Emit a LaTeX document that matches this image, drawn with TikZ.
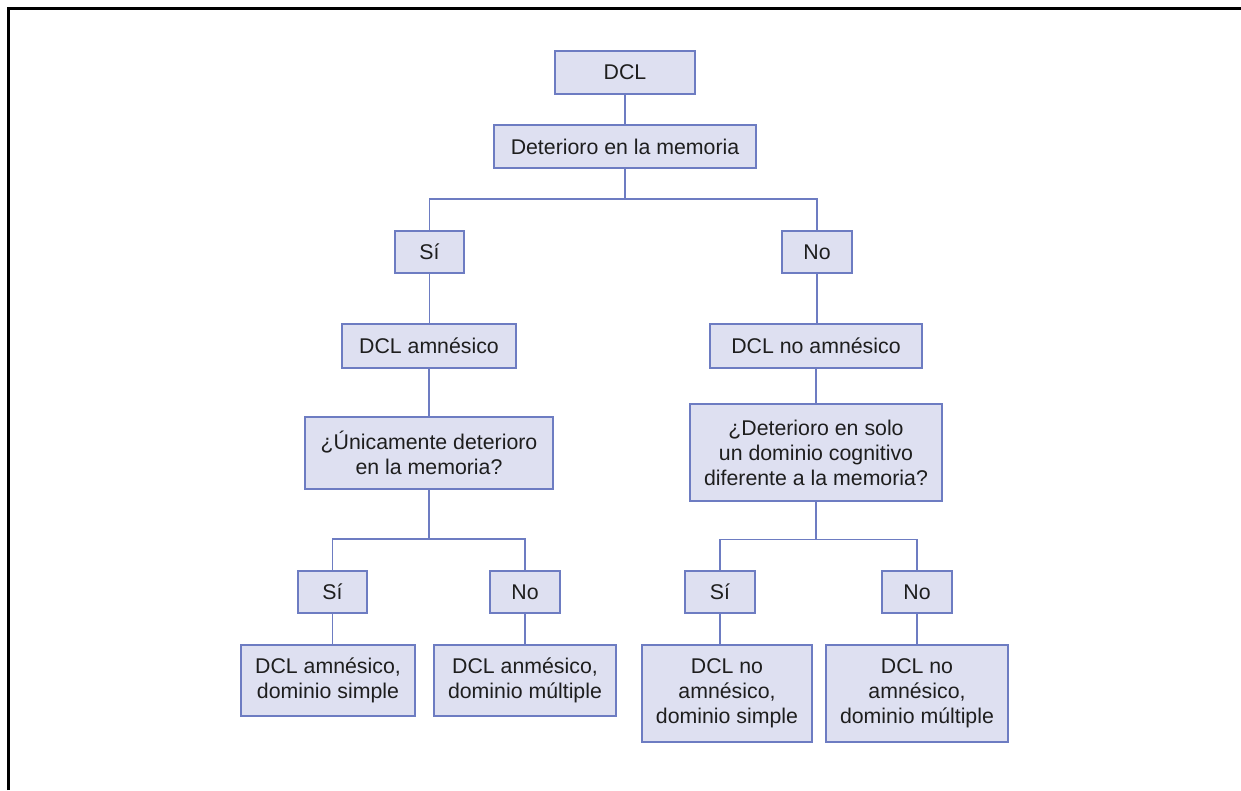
\documentclass[tikz,border=0pt]{standalone}
\usepackage{fontspec}
\setmainfont{Liberation Sans}
\begin{document}
\begin{tikzpicture}[x=1pt,y=-1pt,
  box/.style={draw=edgec, fill=boxc, line width=1.4pt, text=txtc, align=center,
    inner sep=0pt, font=\fontsize{21.3}{25}\selectfont},
  link/.style={draw=edgec, line width=1.4pt}]
\definecolor{boxc}{HTML}{DEE0F1}
\definecolor{edgec}{HTML}{6D7CC2}
\definecolor{txtc}{HTML}{1E1E1E}
\useasboundingbox (0,0) rectangle (1241,790);
\fill[white] (0,0) rectangle (1241,790);
\draw[line width=3pt, black] (8.5,790) -- (8.5,8.5) -- (1241,8.5);

\node[box, minimum width=140, minimum height=43] (dcl) at (625,72.5) {DCL};
\node[box, minimum width=262, minimum height=43] (det) at (625,146.5) {Deterioro en la memoria};
\node[box, minimum width=69, minimum height=42] (si1) at (429.5,252) {Sí};
\node[box, minimum width=70, minimum height=42] (no1) at (817,252) {No};
\node[box, minimum width=174, minimum height=44] (amn) at (429,346) {DCL amnésico};
\node[box, minimum width=212, minimum height=44] (namn) at (816,346) {DCL no amnésico};
\node[box, minimum width=248, minimum height=72] (q1) at (429,453) {¿Únicamente deterioro\\en la memoria?};
\node[box, minimum width=252, minimum height=97] (q2) at (816,452.5) {¿Deterioro en solo\\un dominio cognitivo\\diferente a la memoria?};
\node[box, minimum width=69, minimum height=42] (si2) at (332.5,592) {Sí};
\node[box, minimum width=70, minimum height=42] (no2) at (525,592) {No};
\node[box, minimum width=70, minimum height=42] (si3) at (720,592) {Sí};
\node[box, minimum width=70, minimum height=42] (no3) at (917,592) {No};
\node[box, minimum width=174, minimum height=71] (r1) at (328,680.5) {DCL amnésico,\\dominio simple};
\node[box, minimum width=182, minimum height=71] (r2) at (525,680.5) {DCL anmésico,\\dominio múltiple};
\node[box, minimum width=170, minimum height=97] (r3) at (727,693.5) {DCL no\\amnésico,\\dominio simple};
\node[box, minimum width=182, minimum height=97] (r4) at (917,693.5) {DCL no\\amnésico,\\dominio múltiple};

\coordinate (j1) at (625,199);
\coordinate (j2) at (429,539);
\coordinate (j3) at (816,539.5);

\draw[link] (dcl.south) -- (det.north);
\draw[link] (det.south) -- (j1);
\draw[link] (si1.north) |- (j1) -| (no1.north);
\draw[link] (si1.south) -- (si1.south |- amn.north);
\draw[link] (no1.south) -- (no1.south |- namn.north);
\draw[link] (amn.south) -- (amn.south |- q1.north);
\draw[link] (namn.south) -- (namn.south |- q2.north);
\draw[link] (q1.south) -- (j2);
\draw[link] (si2.north) |- (j2) -| (no2.north);
\draw[link] (q2.south) -- (j3);
\draw[link] (si3.north) |- (j3) -| (no3.north);
\draw[link] (si2.south) -- (si2.south |- r1.north);
\draw[link] (no2.south) -- (no2.south |- r2.north);
\draw[link] (si3.south) -- (si3.south |- r3.north);
\draw[link] (no3.south) -- (no3.south |- r4.north);
\end{tikzpicture}
\end{document}
